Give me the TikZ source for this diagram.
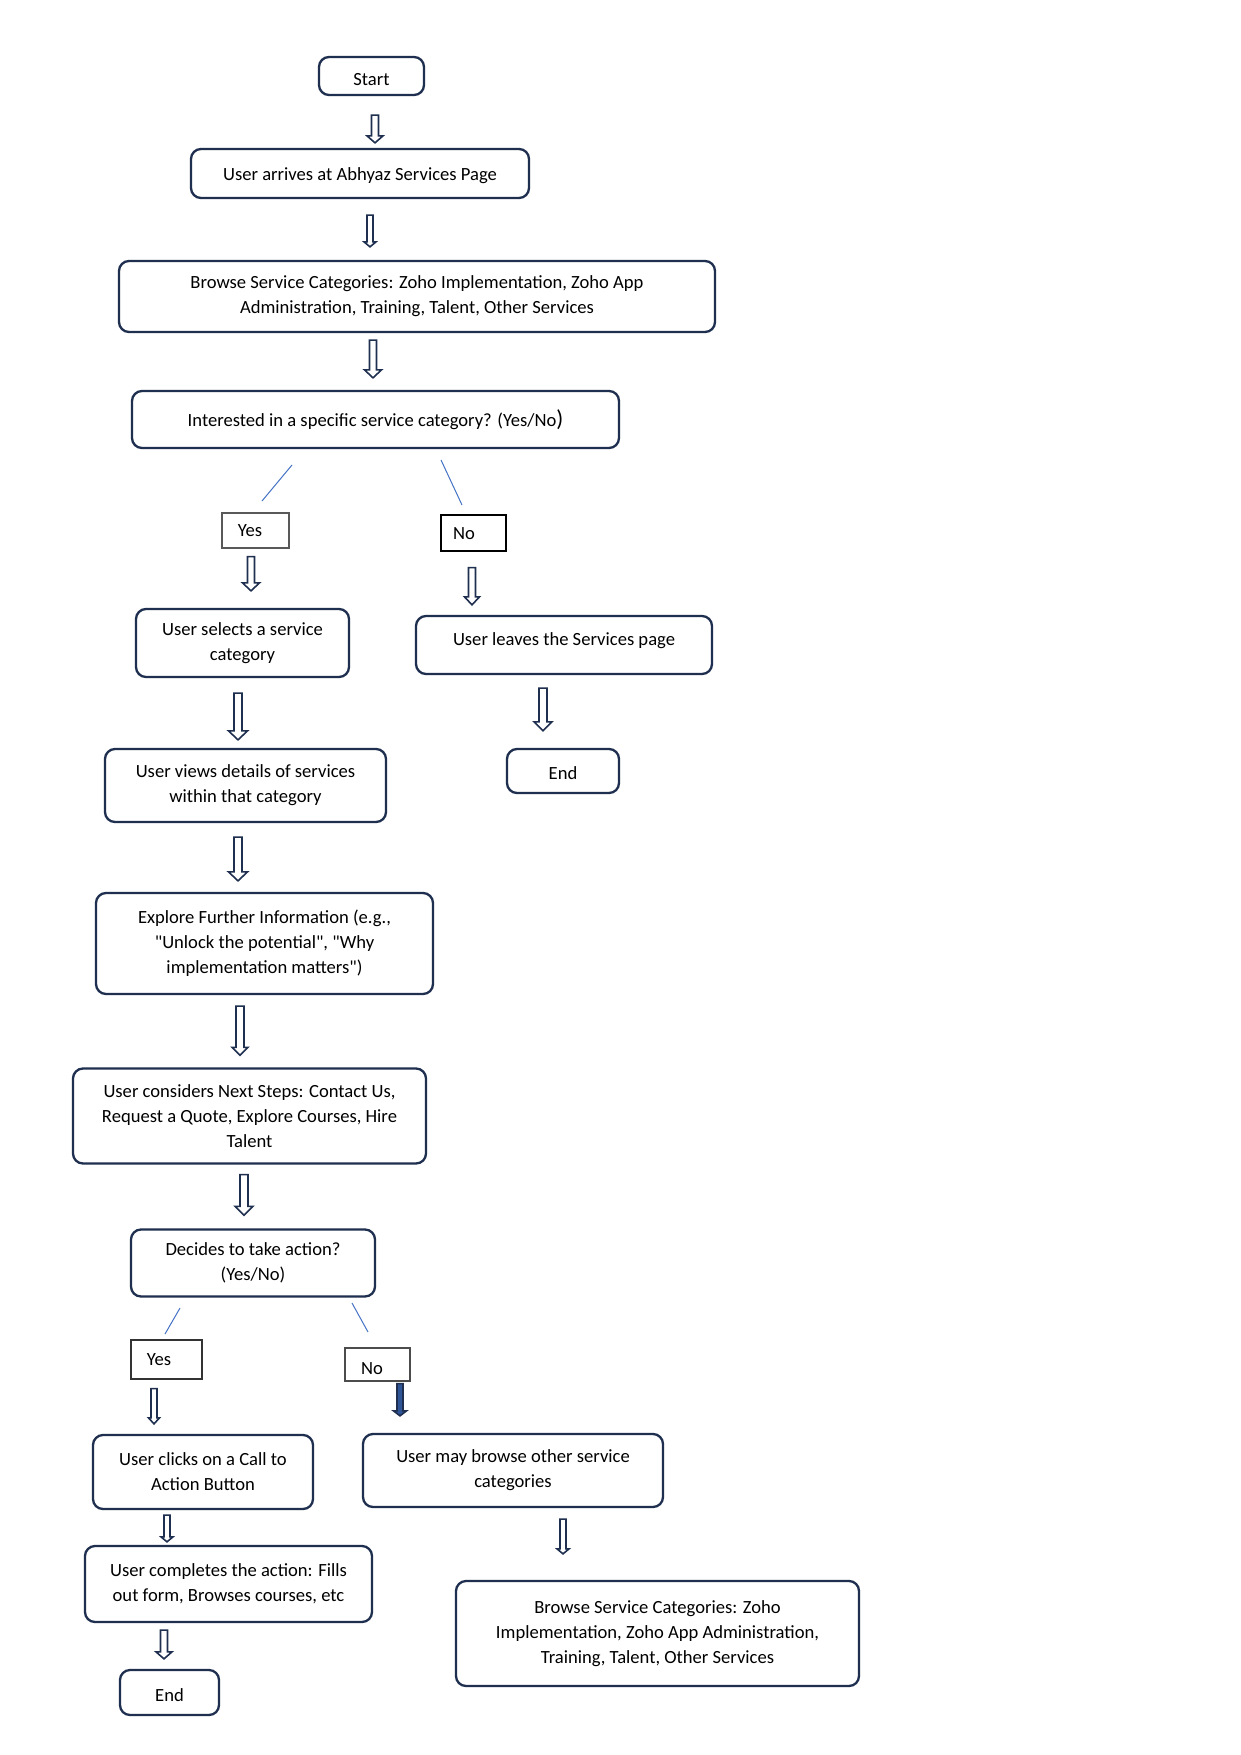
\documentclass[tikz,border=0pt]{standalone}
\usepackage{fontspec}
\setmainfont{Carlito}
\newfontfamily\plaincarlito{Carlito}
\usetikzlibrary{calc}
\definecolor{navy}{HTML}{1F2F4F}
\definecolor{linkblue}{HTML}{4472C4}
\definecolor{fillblue}{HTML}{2F5597}
\newcommand\dq{{\plaincarlito\char34\relax}}
\tikzset{
  box/.style={draw=navy, line width=1.15pt, rounded corners=5pt, inner sep=0pt, align=center,
    font=\fontsize{9.3pt}{12.5pt}\selectfont, execute at begin node={\rule{0pt}{9pt}}},
  tag/.style={draw=black!80, line width=0.6pt, inner sep=0pt, align=center,
    font=\fontsize{9.3pt}{12.5pt}\selectfont},
  sz/.style 2 args={minimum width=#1*0.5pt, minimum height=#2*0.5pt},
  blockarr/.style={draw=navy, line width=0.8pt, fill=white, line join=miter},
  blockarrfilled/.style={draw=navy, line width=0.8pt, fill=fillblue, line join=miter},
  thinline/.style={draw=linkblue, line width=0.5pt},
}
% #1 style, #2 src, #3 dst, #4 x(px), #5 top gap, #6 bottom gap, #7 shaft width, #8 head width, #9 head length (px)
\newcommand\barr[9]{%
  \path[#1] let \p1=(#4,0 |- #2.south), \p2=(#4,0 |- #3.north) in
    ({\x1-#7*0.25pt},{\y1-#5*0.5pt}) -- ({\x1+#7*0.25pt},{\y1-#5*0.5pt})
    -- ({\x1+#7*0.25pt},{\y2+#6*0.5pt+#9*0.5pt}) -- ({\x1+#8*0.25pt},{\y2+#6*0.5pt+#9*0.5pt})
    -- (\x1,{\y2+#6*0.5pt}) -- ({\x1-#8*0.25pt},{\y2+#6*0.5pt+#9*0.5pt})
    -- ({\x1-#7*0.25pt},{\y2+#6*0.5pt+#9*0.5pt}) -- cycle;}
\begin{document}
\begin{tikzpicture}[x=0.5pt,y=-0.5pt]
\useasboundingbox[fill=white] (0,0) rectangle (1241,1755);

\node[box, sz={105}{38}, execute at begin node={}, text height=12pt, text depth=2pt] (start) at (371.5,76) {Start};
\node[box, sz={338}{49}] (arrive) at (360,173.5) {User arrives at Abhyaz Services Page};
\node[box, sz={596}{71}] (browse) at (417,296.5) {Browse Service Categories: Zoho Implementation, Zoho App\\Administration, Training, Talent, Other Services};
\node[box, sz={487}{57}] (interest) at (375.5,419.5) {Interested in a specific service category? (Yes/No{\fontsize{11.5pt}{12.5pt}\selectfont)}};

\node[tag, draw=black!65, sz={67}{35}, text height=8pt, text depth=2pt] (yes1) at (255.5,530.5) {Yes\hspace{5.5pt}};
\node[tag, draw=black, sz={65}{36}, text height=8.5pt, text depth=2pt] (no1) at (473.5,533) {No\hspace{9.5pt}};

\node[box, sz={213}{68}] (selects) at (242.5,643) {User selects a service\\category};
\node[box, sz={296}{58}, execute at begin node={}, text height=7pt, text depth=6.5pt] (leaves) at (564,645) {User leaves the Services page};
\node[box, sz={112}{44}] (end1) at (563,771) {End};
\node[box, sz={281}{73}] (views) at (245.5,785.5) {User views details of services\\within that category};
\node[box, sz={337}{101}] (explore) at (264.5,943.5) {Explore Further Information (e.g.,\\\dq Unlock the potential\dq, \dq Why\\implementation matters\dq)};
\node[box, sz={353}{95}] (considers) at (249.5,1116) {User considers Next Steps: Contact Us,\\Request a Quote, Explore Courses, Hire\\Talent};
\node[box, sz={244}{67}] (decides) at (253,1263) {Decides to take action?\\(Yes/No)};

\node[tag, sz={71}{39}, text height=8pt, text depth=2pt] (yes2) at (166.5,1359.5) {Yes\hspace{7.5pt}};
\node[tag, draw=black!70, sz={65}{33}, text height=10.5pt, text depth=0.5pt] (no2) at (377.5,1364.5) {No\hspace{5.5pt}};

\node[box, sz={220}{74}] (clicks) at (203,1472) {User clicks on a Call to\\Action Button};
\node[box, sz={300}{73}] (maybrowse) at (513,1470.5) {User may browse other service\\categories};
\node[box, sz={287}{76}] (completes) at (228.5,1584) {User completes the action: Fills\\out form, Browses courses, etc};
\node[box, sz={99}{45}] (end2) at (169.5,1692.5) {End};
\node[box, sz={403}{105}] (browse2) at (657.5,1633.5) {Browse Service Categories: Zoho\\Implementation, Zoho App Administration,\\Training, Talent, Other Services};

% block arrows
\barr{blockarr}{start}{arrive}{375}{19}{5}{7}{16}{7}
\barr{blockarr}{arrive}{browse}{370}{16}{13}{6}{12}{5}
\barr{blockarr}{browse}{interest}{373}{7}{12}{7}{17}{8}
\barr{blockarr}{yes1}{selects}{251}{8}{17}{7}{17}{8}
\barr{blockarr}{no1}{leaves}{472}{16}{10}{7}{15}{8}
\barr{blockarr}{selects}{views}{238}{15}{8}{8}{19}{9}
\barr{blockarr}{leaves}{end1}{543}{13}{17}{8}{18}{9}
\barr{blockarr}{views}{explore}{238}{14}{11}{8}{19}{9}
\barr{blockarr}{explore}{considers}{240}{11}{12}{8}{16}{8}
\barr{blockarr}{considers}{decides}{244}{10}{13}{8}{18}{9}
\barr{blockarr}{yes2}{clicks}{154}{9}{10}{6}{11}{6}
\barr{blockarrfilled}{no2}{maybrowse}{400}{2}{17}{6}{13}{5}
\barr{blockarr}{clicks}{completes}{167}{5}{3}{6}{12}{5}
\barr{blockarr}{completes}{end2}{164}{7}{10}{7}{16}{7}
\barr{blockarr}{maybrowse}{browse2}{563}{11}{26}{6}{12}{5}

% thin branch strokes
\coordinate (l1a) at (292,465); \coordinate (l1b) at (262,501);
\coordinate (l2a) at (441,460); \coordinate (l2b) at (462,505);
\coordinate (l3a) at (180,1308); \coordinate (l3b) at (165,1334);
\coordinate (l4a) at (352,1303); \coordinate (l4b) at (368,1332);
\draw[thinline] (l1a) -- (l1b);
\draw[thinline] (l2a) -- (l2b);
\draw[thinline] (l3a) -- (l3b);
\draw[thinline] (l4a) -- (l4b);
\end{tikzpicture}
\end{document}
